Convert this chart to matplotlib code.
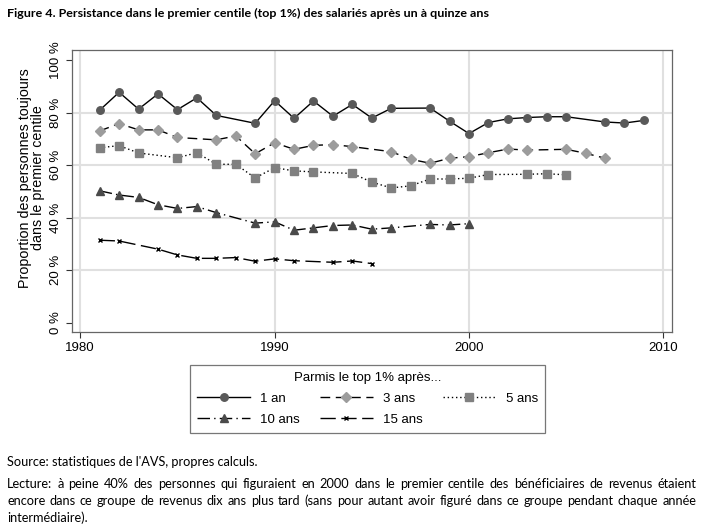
import matplotlib
matplotlib.use("Agg")
import matplotlib.pyplot as plt

# ---- data ----
years_1an = [1981, 1982, 1983, 1984, 1985, 1986, 1987, 1989, 1990, 1991, 1992, 1993, 1994,
             1995, 1996, 1998, 1999, 2000, 2001, 2002, 2003, 2004, 2005, 2007, 2008, 2009]
vals_1an = [80.9, 87.7, 81.3, 87.1, 81.1, 85.6, 78.9, 75.9, 84.5, 77.8, 84.4, 78.6, 83.1,
            77.9, 81.6, 81.7, 76.7, 72.0, 76.2, 77.6, 78.1, 78.4, 78.4, 76.4, 76.0, 77.0]

years_3ans = [1981, 1982, 1983, 1984, 1985, 1987, 1988, 1989, 1990, 1991, 1992, 1993, 1994,
              1996, 1997, 1998, 1999, 2000, 2001, 2002, 2003, 2005, 2006, 2007]
vals_3ans = [73.0, 75.8, 73.4, 73.4, 70.5, 69.6, 71.1, 64.3, 68.5, 66.0, 67.5, 67.8, 67.0,
             65.1, 62.2, 60.7, 62.6, 63.2, 64.7, 66.1, 65.7, 66.0, 64.5, 62.6]

years_5ans = [1981, 1982, 1983, 1985, 1986, 1987, 1988, 1989, 1990, 1991, 1992, 1994, 1995,
              1996, 1997, 1998, 1999, 2000, 2001, 2003, 2004, 2005]
vals_5ans = [66.6, 67.4, 64.6, 62.8, 64.7, 60.3, 60.3, 55.1, 59.0, 57.8, 57.4, 56.8, 53.5,
             51.3, 52.1, 54.7, 54.7, 55.0, 56.4, 56.5, 56.7, 56.3]

years_10ans = [1981, 1982, 1983, 1984, 1985, 1986, 1987, 1989, 1990, 1991, 1992, 1993, 1994,
               1995, 1996, 1998, 1999, 2000]
vals_10ans = [50.2, 48.6, 47.7, 44.9, 43.5, 44.2, 41.9, 37.9, 38.4, 35.2, 36.1, 37.0, 37.2,
              35.6, 36.1, 37.4, 37.2, 37.7]

years_15ans = [1981, 1982, 1984, 1985, 1986, 1987, 1988, 1989, 1990, 1991, 1993, 1994, 1995]
vals_15ans = [31.4, 31.1, 28.0, 25.8, 24.5, 24.5, 24.8, 23.4, 24.3, 23.6, 23.0, 23.5, 22.5]

series_labels = ["1 an", "3 ans", "5 ans", "10 ans", "15 ans"]
xticks = [1980, 1990, 2000, 2010]
yticks = [0, 20, 40, 60, 80, 100]
ytick_labels = ["0 %", "20 %", "40 %", "60 %", "80 %", "100 %"]

title = "Figure 4. Persistance dans le premier centile (top 1%) des salariés après un à quinze ans"
ylabel = "Proportion des personnes toujours\ndans le premier centile"
legend_title = "Parmis le top 1% après..."
source = "Source: statistiques de l'AVS, propres calculs."
lecture_lines = [
    "Lecture: à peine 40% des personnes qui figuraient en 2000 dans le premier centile des bénéficiaires de revenus étaient",
    "encore dans ce groupe de revenus dix ans plus tard (sans pour autant avoir figuré dans ce groupe pendant chaque année",
    "intermédiaire).",
]

# ---- figure ----
W, H = 704, 532
plt.rcParams['font.family'] = ['Liberation Sans', 'DejaVu Sans']
fig = plt.figure(figsize=(W / 100, H / 100), dpi=100)

ax_l, ax_r, ax_t, ax_b = 71.7, 672.3, 50.0, 332.3
ax = fig.add_axes([ax_l / W, 1 - ax_b / H, (ax_r - ax_l) / W, (ax_b - ax_t) / H])

styles = [
    dict(color="black", ls="-", marker="o", mfc="#595959", mec="#595959", ms=5.4),
    dict(color="black", ls=(0, (7, 4)), marker="D", mfc="#9c9c9c", mec="#9c9c9c", ms=5.4),
    dict(color="black", ls=(0, (1, 2)), marker="s", mfc="#808080", mec="#808080", ms=5.4),
    dict(color="black", ls=(0, (9, 3, 1, 3)), marker="^", mfc="#4a4a4a", mec="#4a4a4a", ms=6.2),
    dict(color="black", ls=(0, (11, 4)), marker="x", mfc="black", mec="black", ms=3.5, mew=1.0),
]
data = [(years_1an, vals_1an), (years_3ans, vals_3ans), (years_5ans, vals_5ans),
        (years_10ans, vals_10ans), (years_15ans, vals_15ans)]

handles = []
for (xs, ys), st, lab in zip(data, styles, series_labels):
    h, = ax.plot(xs, ys, lw=1.0, label=lab, zorder=3, **st)
    handles.append(h)

ax.set_xlim(1979.56, 2010.46)
ax.set_ylim(-3.65, 103.8)
ax.set_xticks(xticks)
ax.set_xticklabels([str(t) for t in xticks], fontsize=9.5)
ax.set_yticks(yticks)
ax.set_yticklabels(ytick_labels, fontsize=9.5, rotation=90, va="center")
ax.tick_params(axis="both", direction="out", length=4.5, width=0.8, color="#333333", pad=2.5)

for g in [20, 40, 60, 80]:
    ax.axhline(g, color="#e0e0e0", lw=1.5, zorder=1)
for g in xticks:
    ax.axvline(g, color="#e0e0e0", lw=1.5, zorder=1)

for s in ax.spines.values():
    s.set_color("#666666")
    s.set_linewidth(0.9)

fig.text(31.5 / W, 1 - 178 / H, ylabel, rotation=90, ha="center", va="center",
         fontsize=10.3, linespacing=0.82, multialignment="center")

# legend (row order)
order = [0, 3, 1, 4, 2]
leg = fig.legend([handles[i] for i in order], [series_labels[i] for i in order],
                 ncol=3, loc="center", bbox_to_anchor=(367.5 / W, 1 - 399 / H),
                 title=legend_title, fontsize=9.5, title_fontsize=9.5,
                 frameon=True, fancybox=False, handlelength=4.0, handletextpad=0.75,
                 columnspacing=1.55, labelspacing=0.65, borderpad=0.55, borderaxespad=0)
leg.get_frame().set_edgecolor("#555555")
leg.get_frame().set_linewidth(0.9)

# title and footer (fit widths)
cal = ['Lato', 'DejaVu Sans']
fig.canvas.draw()
renderer = fig.canvas.get_renderer()


def fitted_text(xpx, ypx, s, target_w, base_fs, **kw):
    t = fig.text(xpx / W, 1 - ypx / H, s, fontsize=base_fs, ha="left", va="center", **kw)
    w = t.get_window_extent(renderer).width
    t.set_fontsize(base_fs * target_w / w)
    return t


ttl = fitted_text(7, 13.0, title, 482, 10.0, family=cal, fontweight="bold")
src = fitted_text(7, 462.5, source, 250, 9.3, family=cal)
body_fs = src.get_fontsize()

left_px, right_px = 7, 696
line_y = [484.5, 501.0, 517.5]
for i, (line, ypx) in enumerate(zip(lecture_lines, line_y)):
    if i < len(lecture_lines) - 1:
        words = line.split(" ")
        widths = []
        for wd in words:
            t = fig.text(0, 0, wd, fontsize=body_fs, family=cal)
            widths.append(t.get_window_extent(renderer).width)
            t.remove()
        gap = (right_px - left_px - sum(widths)) / (len(words) - 1)
        x = left_px
        for wd, wdt in zip(words, widths):
            fig.text(x / W, 1 - ypx / H, wd, fontsize=body_fs, family=cal, ha="left", va="center")
            x += wdt + gap
    else:
        fig.text(left_px / W, 1 - ypx / H, line, fontsize=body_fs, family=cal, ha="left", va="center")

fig.savefig("out.png", dpi=100)
